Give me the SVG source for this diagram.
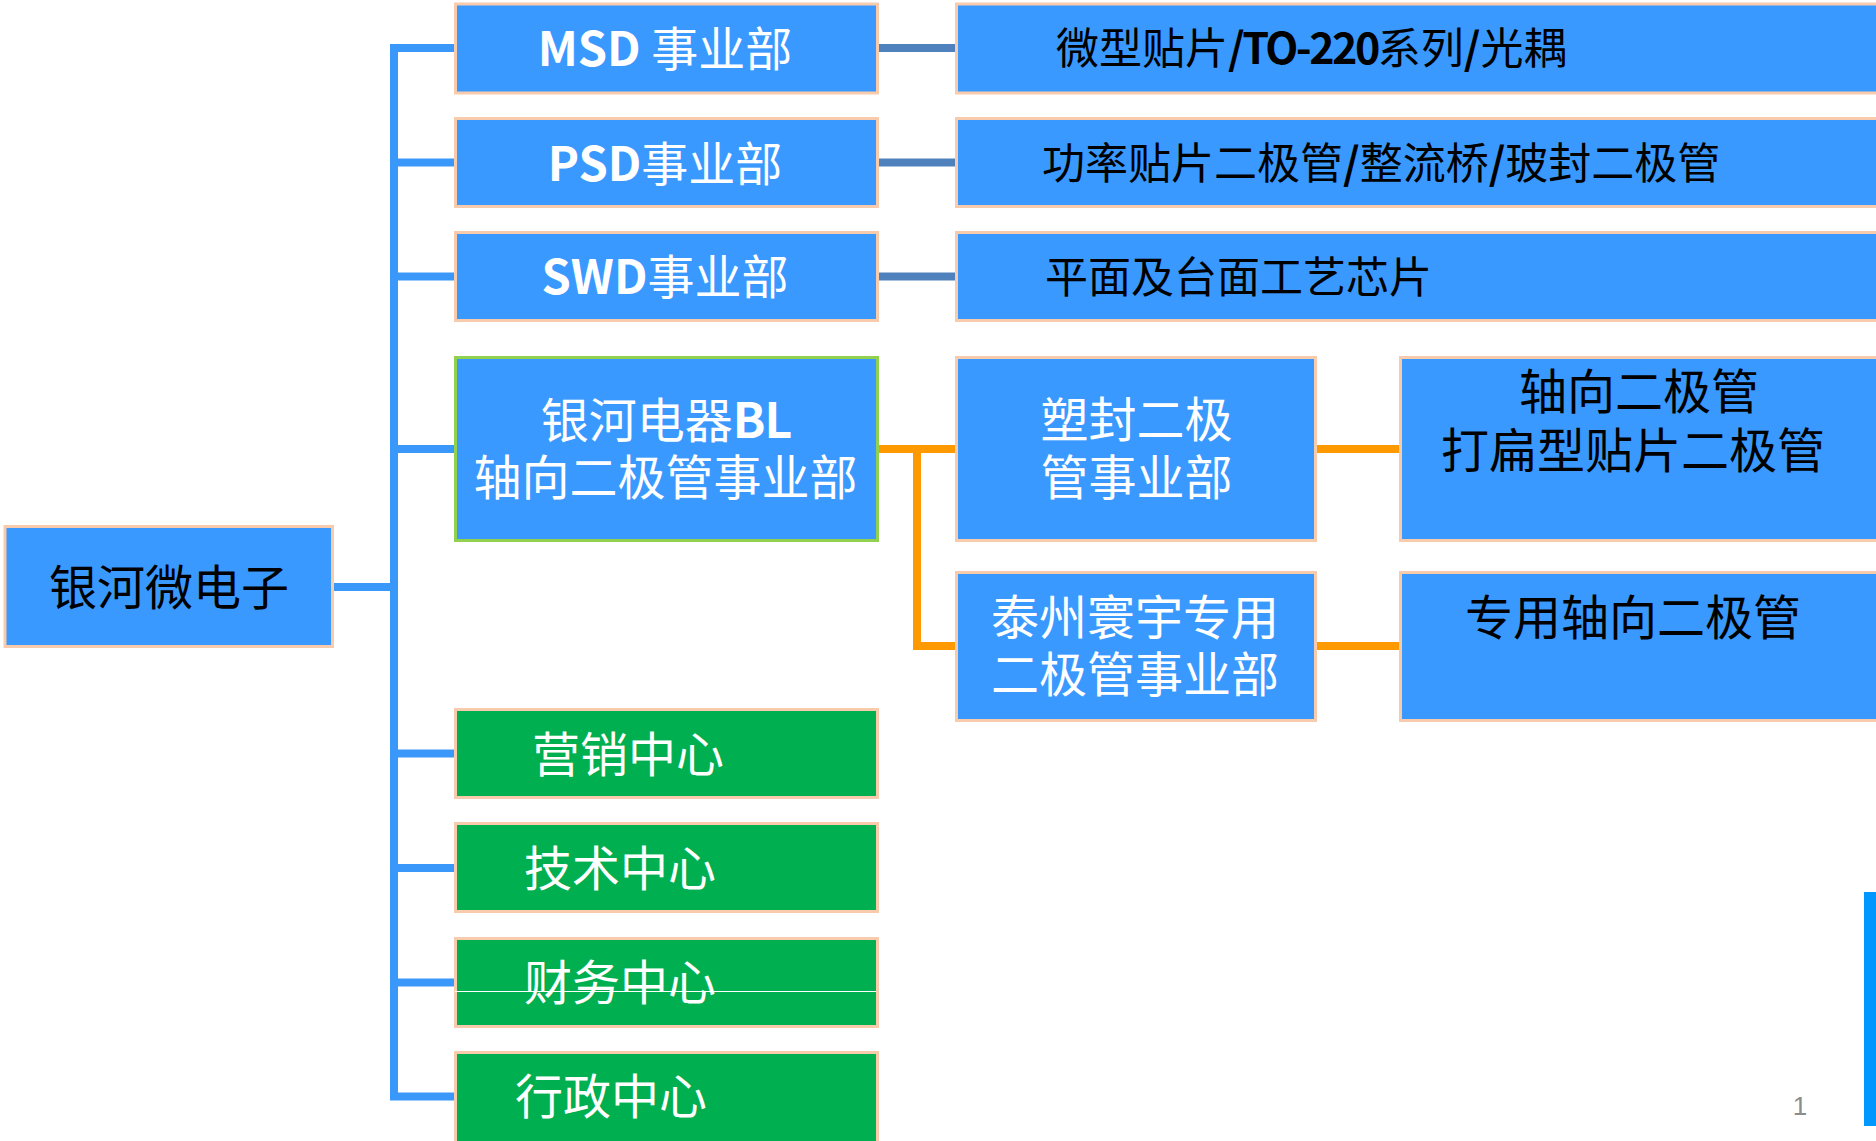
<svg xmlns="http://www.w3.org/2000/svg" width="1876" height="1141" viewBox="0 0 1876 1141">
<style>
.box{fill:#3999FF;stroke:#F8CBAD;stroke-width:3}
.gbox{fill:#00B050;stroke:#F8CBAD;stroke-width:3}
.bl{fill:#3999FF;stroke:#92D050;stroke-width:3}
text{font-family:"Noto Sans CJK SC","Noto Sans",sans-serif;font-size:48px}
.w{fill:#FFFFFF}
.k{fill:#000000}
.m{text-anchor:middle}
.b{font-weight:bold}
.s43{font-size:43px}
.s47{font-size:47px}
.tr{fill:none;stroke:#3A98FA;stroke-width:8}
.db{fill:none;stroke:#4F81BD;stroke-width:8}
.or{fill:none;stroke:#FF9900;stroke-width:8}
</style>
<rect width="1876" height="1141" fill="#FFFFFF"/>
<g id="connectors">
<path class="tr" d="M394,44 V1100.5 M334,587 H394 M390,48 H455 M390,162.5 H455 M390,276.5 H455 M390,449 H455 M390,753.5 H455 M390,868 H455 M390,982.5 H455 M390,1096.5 H455"/>
<path class="db" d="M878,48 H956 M878,162.5 H956 M878,276.5 H956"/>
<path class="or" d="M878,449 H956 M917,445 V650 M913,646 H956 M1317,449 H1400 M1317,646 H1400"/>
</g>
<g id="root">
<rect class="box" x="5" y="526.5" width="327.5" height="120"/>
<text class="k m" x="169" y="605">银河微电子</text>
</g>
<g id="msd">
<rect class="box" x="455.5" y="4" width="422" height="89"/>
<text class="w m s47" x="665" y="66"><tspan class="b">MSD </tspan>事业部</text>
</g>
<g id="psd">
<rect class="box" x="455.5" y="118.5" width="422" height="88"/>
<text class="w m s47" x="665" y="181"><tspan class="b">PSD</tspan>事业部</text>
</g>
<g id="swd">
<rect class="box" x="455.5" y="232.5" width="422" height="88"/>
<text class="w m s47" x="665" y="294"><tspan class="b">SWD</tspan>事业部</text>
</g>
<g id="bl">
<rect class="bl" x="455.5" y="357.5" width="422" height="183"/>
<text class="w m"><tspan x="666" y="438">银河电器<tspan class="b" letter-spacing="-1">BL</tspan></tspan><tspan x="665.5" y="495">轴向二极管事业部</tspan></text>
</g>
<g id="msd-prod">
<rect class="box" x="956.5" y="4" width="1000" height="89"/>
<text class="k s43" x="1056" y="64">微型贴片<tspan class="b" letter-spacing="-2.5">/TO-220</tspan>系列<tspan class="b">/</tspan>光耦</text>
</g>
<g id="psd-prod">
<rect class="box" x="956.5" y="118.5" width="1000" height="88"/>
<text class="k s43" x="1042" y="179">功率贴片二极管<tspan class="b">/</tspan>整流桥<tspan class="b">/</tspan>玻封二极管</text>
</g>
<g id="swd-prod">
<rect class="box" x="956.5" y="232.5" width="1000" height="88"/>
<text class="k s43" x="1045" y="293">平面及台面工艺芯片</text>
</g>
<g id="sufeng">
<rect class="box" x="956.5" y="357.5" width="359" height="183"/>
<text class="w m"><tspan x="1136.5" y="437">塑封二极</tspan><tspan x="1136.5" y="495">管事业部</tspan></text>
</g>
<g id="sufeng-prod">
<rect class="box" x="1400.5" y="357.5" width="600" height="183"/>
<text class="k m"><tspan x="1639" y="409">轴向二极管</tspan><tspan x="1633" y="468">打扁型贴片二极管</tspan></text>
</g>
<g id="taizhou">
<rect class="box" x="956.5" y="572.5" width="359" height="148"/>
<text class="w m"><tspan x="1135" y="635">泰州寰宇专用</tspan><tspan x="1135" y="692">二极管事业部</tspan></text>
</g>
<g id="taizhou-prod">
<rect class="box" x="1400.5" y="572.5" width="600" height="148"/>
<text class="k m" x="1633" y="635">专用轴向二极管</text>
</g>
<g id="yingxiao">
<rect class="gbox" x="455.5" y="709.5" width="422" height="88"/>
<text class="w" x="532" y="772">营销中心</text>
</g>
<g id="jishu">
<rect class="gbox" x="455.5" y="823.5" width="422" height="88"/>
<text class="w" x="524" y="886">技术中心</text>
</g>
<g id="caiwu">
<rect class="gbox" x="455.5" y="938.5" width="422" height="88"/>
<text class="w" x="524" y="1000">财务中心</text>
<line x1="455" y1="991.5" x2="876" y2="991.5" stroke="#FFFFFF" stroke-width="1"/>
</g>
<g id="xingzheng">
<rect class="gbox" x="455.5" y="1052.5" width="422" height="92"/>
<text class="w" x="515" y="1114">行政中心</text>
</g>
<rect x="1864" y="892" width="12" height="234" fill="#0097FF"/>
<text x="1800" y="1115" style="font-family:'Liberation Sans',sans-serif;font-size:26px;fill:#8C8C8C;text-anchor:middle">1</text>
</svg>
